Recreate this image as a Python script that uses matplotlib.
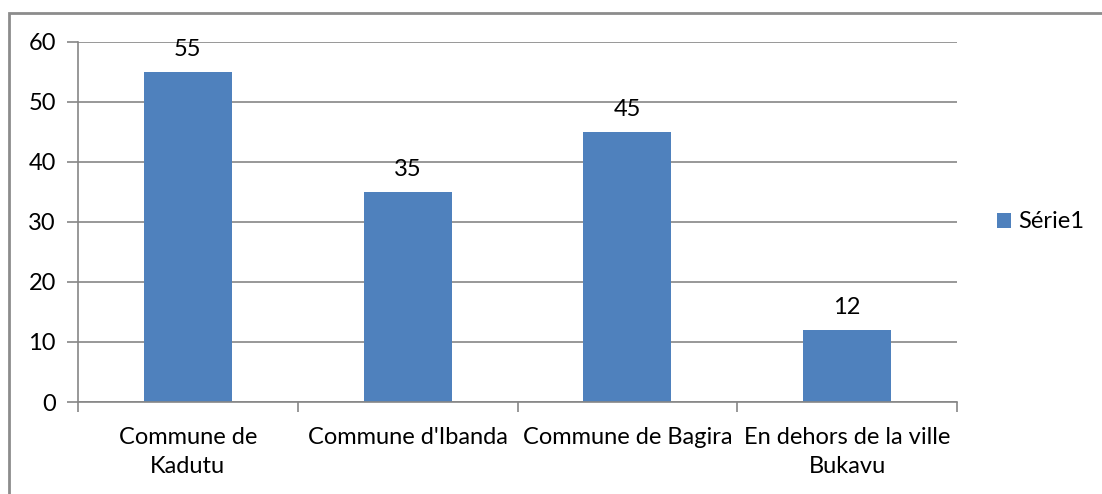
import matplotlib.pyplot as plt
from matplotlib.patches import Rectangle

# --- data ---
categories = ["Commune de\nKadutu", "Commune d'Ibanda", "Commune de Bagira",
              "En dehors de la ville\nBukavu"]
values = [55, 35, 45, 12]
series_name = "Série1"

plt.rcParams['font.family'] = ['Lato', 'DejaVu Sans']
FS = 17

W, H = 1102, 494
fig = plt.figure(figsize=(W / 100, H / 100), dpi=100)

# outer chart frame (runs off the right and bottom edges)
fig.patches.append(Rectangle((9 / W, -0.5), 1.5, 1.5 - 13 / H, transform=fig.transFigure,
                             fill=False, edgecolor='#8c8c8c', lw=2, zorder=0))

ax = fig.add_axes([78 / W, (H - 402) / H, (957 - 78) / W, (402 - 42) / H])

bar_color = '#4f81bd'
grid_color = '#868686'
x = range(len(values))
ax.bar(x, values, width=0.4, color=bar_color, label=series_name, zorder=2)

for xi, v in zip(x, values):
    ax.text(xi, v + 3.7, str(v), ha='center', va='center', fontsize=FS)

ax.set_xlim(-0.5, len(values) - 0.5)
ax.set_ylim(0, 60)
ax.set_yticks(range(0, 61, 10))
ax.yaxis.grid(True, color=grid_color, lw=1.2, zorder=0)
ax.tick_params(axis='y', length=8, color=grid_color, width=1.2, labelsize=FS, pad=8)

# category labels between boundary ticks
ax.set_xticks([i - 0.5 for i in range(len(values) + 1)])
ax.set_xticklabels([])
ax.set_xticks(list(x), minor=True)
ax.set_xticklabels(categories, minor=True, fontsize=FS, linespacing=1.45)
ax.tick_params(axis='x', which='major', length=7, color=grid_color, width=1.2)
ax.tick_params(axis='x', which='minor', length=0, pad=18)

for s in ['top', 'right']:
    ax.spines[s].set_visible(False)
for s in ['left', 'bottom']:
    ax.spines[s].set_color(grid_color)
    ax.spines[s].set_linewidth(1.2)

ax.legend(loc='center left', bbox_to_anchor=(1.0, 0.5), frameon=False, fontsize=FS,
          handlelength=0.6, handleheight=0.6, handletextpad=0.3, borderaxespad=1.3)

fig.savefig("out.png", dpi=100)
